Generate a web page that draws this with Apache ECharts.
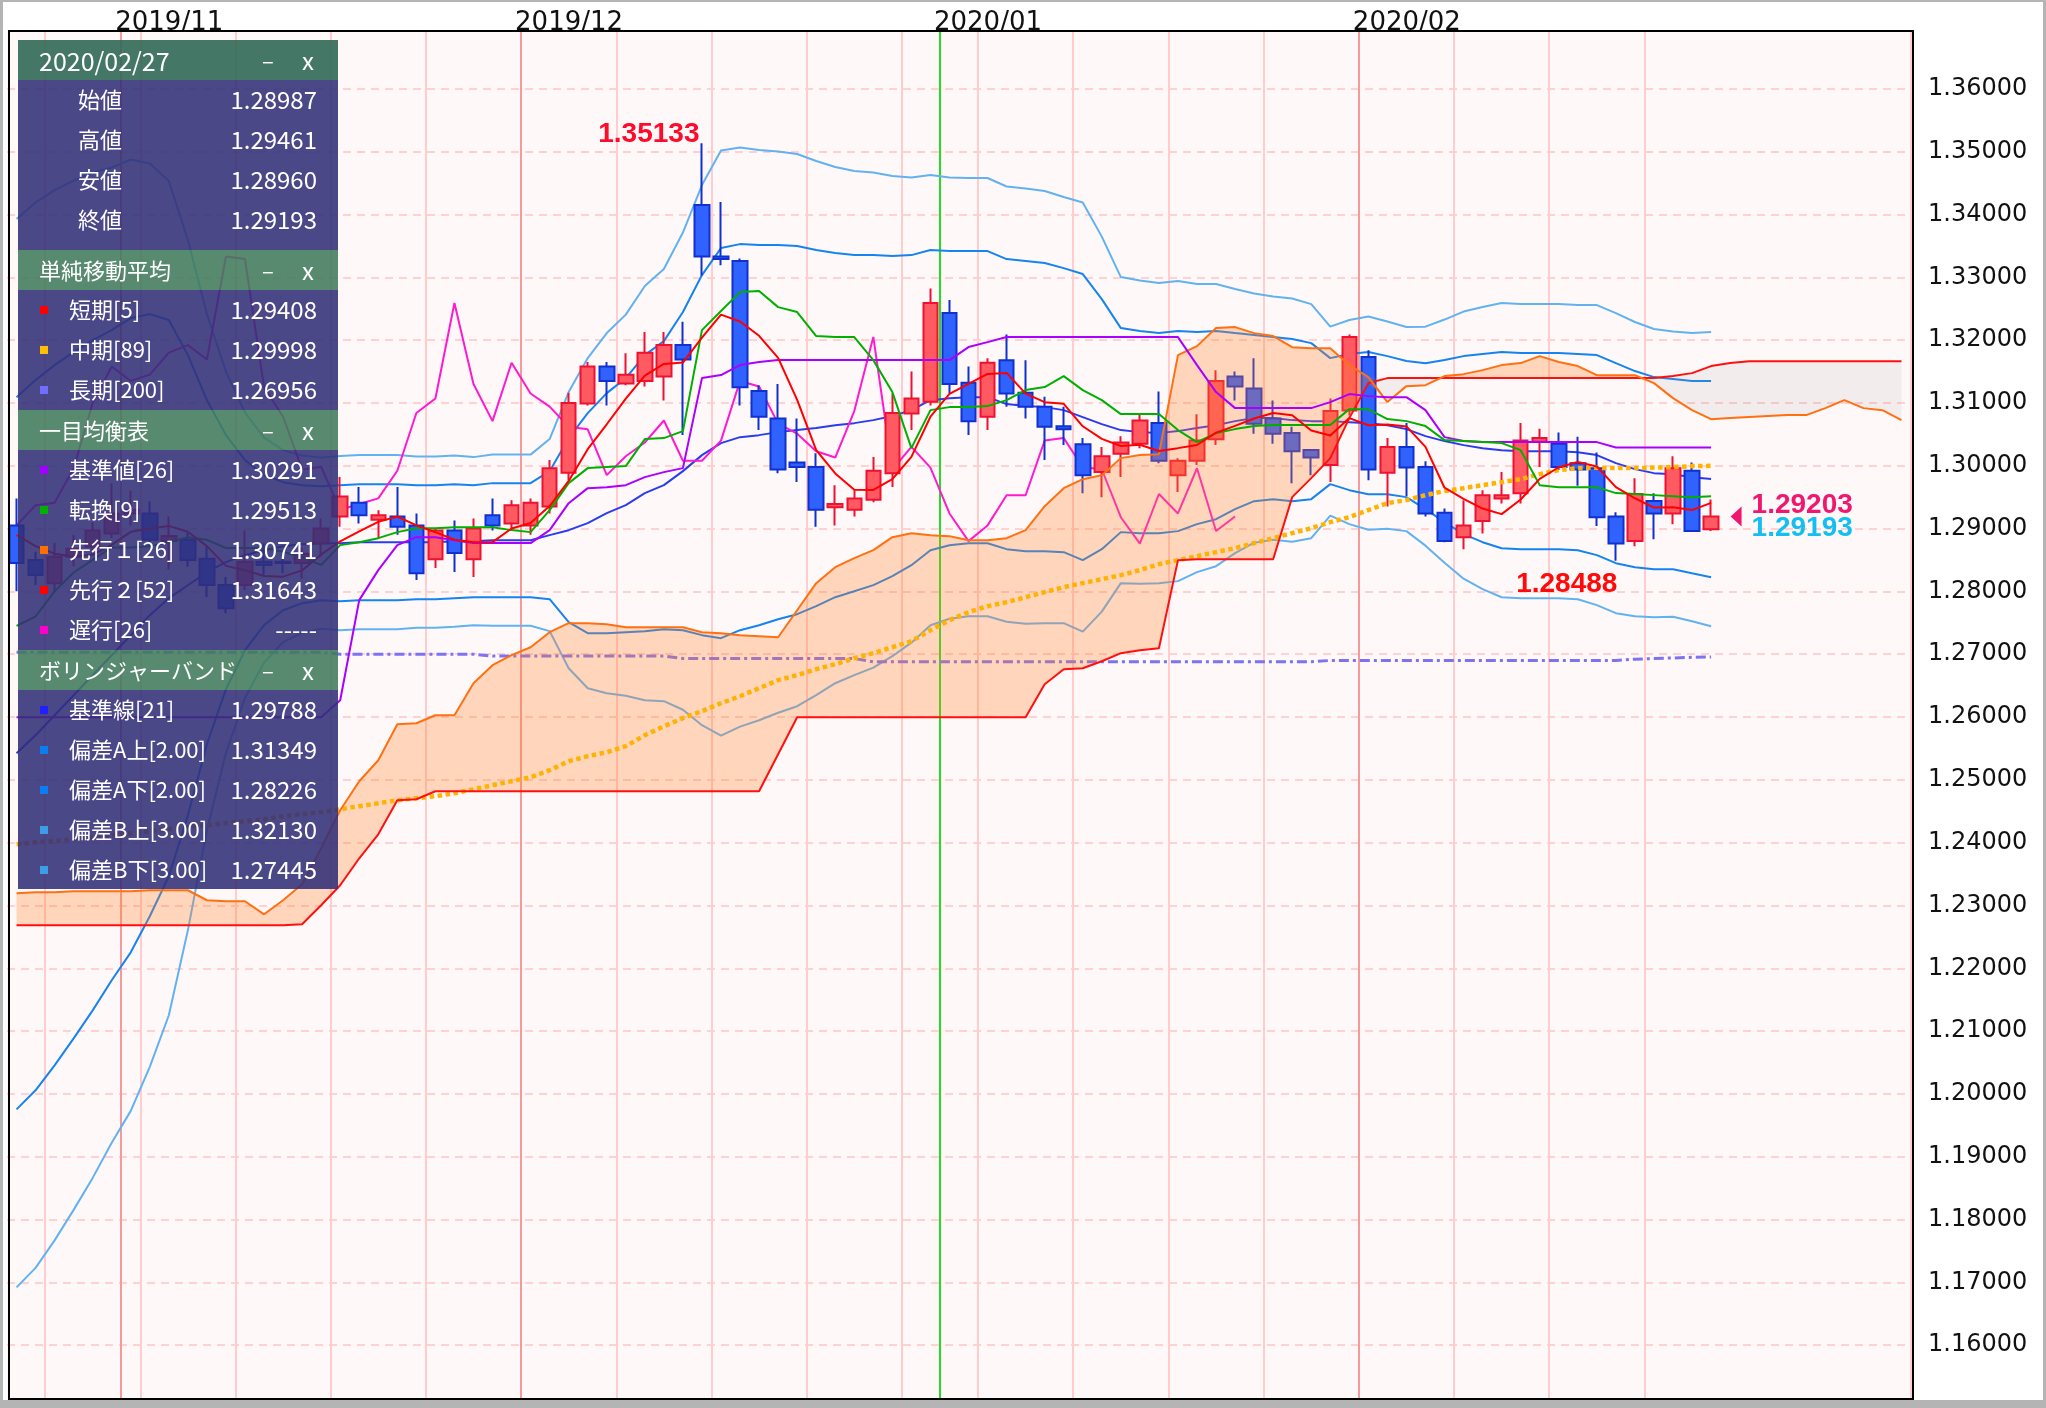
<!DOCTYPE html>
<html>
<head>
<meta charset="utf-8">
<script src="https://cdn.jsdelivr.net/npm/echarts@6.0.0/dist/echarts.min.js"></script>
<style>
html,body{margin:0;padding:0;background:#ffffff;}
#chart{width:2046px;height:1408px;}
</style>
</head>
<body>
<div id="chart"></div>
<script>
// ---------------- DATA ----------------
const dates = ['2019/10/24','2019/10/25','2019/10/28','2019/10/29','2019/10/30','2019/10/31','2019/11/01','2019/11/04','2019/11/05','2019/11/06','2019/11/07','2019/11/08','2019/11/11','2019/11/12','2019/11/13','2019/11/14','2019/11/15','2019/11/18','2019/11/19','2019/11/20','2019/11/21','2019/11/22','2019/11/25','2019/11/26','2019/11/27','2019/11/28','2019/11/29','2019/12/02','2019/12/03','2019/12/04','2019/12/05','2019/12/06','2019/12/09','2019/12/10','2019/12/11','2019/12/12','2019/12/13','2019/12/16','2019/12/17','2019/12/18','2019/12/19','2019/12/20','2019/12/23','2019/12/24','2019/12/25','2019/12/26','2019/12/27','2019/12/30','2019/12/31','2020/01/02','2020/01/03','2020/01/06','2020/01/07','2020/01/08','2020/01/09','2020/01/10','2020/01/13','2020/01/14','2020/01/15','2020/01/16','2020/01/17','2020/01/20','2020/01/21','2020/01/22','2020/01/23','2020/01/24','2020/01/27','2020/01/28','2020/01/29','2020/01/30','2020/01/31','2020/02/03','2020/02/04','2020/02/05','2020/02/06','2020/02/07','2020/02/10','2020/02/11','2020/02/12','2020/02/13','2020/02/14','2020/02/17','2020/02/18','2020/02/19','2020/02/20','2020/02/21','2020/02/24','2020/02/25','2020/02/26','2020/02/27','2020/02/28','2020/03/02','2020/03/03','2020/03/04','2020/03/05','2020/03/06','2020/03/09','2020/03/10','2020/03/11','2020/03/12'];
const endBoundary = ['2020/03/13'];

const opens = [1.2905,1.2850,1.2813,1.2855,1.2871,1.2892,1.2924,1.2924,1.2880,1.2882,
1.2852,1.2810,1.2810,1.2847,1.2847,1.2845,1.2876,1.2919,1.2941,1.2914,
1.2919,1.2905,1.2851,1.2897,1.2851,1.2921,1.2908,1.2905,1.2935,1.2989,
1.3099,1.3158,1.3131,1.3135,1.3142,1.3192,1.3415,1.3333,1.3326,1.3119,
1.3075,1.3005,1.2998,1.2934,1.2930,1.2946,1.2988,1.3083,1.3102,1.3243,
1.3132,1.3078,1.3168,1.3116,1.3094,1.3063,1.3034,1.2990,1.3019,1.3035,
1.3068,1.2985,1.3008,1.3042,1.3142,1.3123,1.3075,1.3052,1.3025,1.3001,
1.3088,1.3173,1.2989,1.3030,1.2998,1.2925,1.2886,1.2912,1.2948,1.2956,
1.3038,1.3035,1.3004,1.2996,1.2919,1.2880,1.2944,1.2924,1.2992,1.28987];
const highs = [1.2948,1.2863,1.2877,1.2890,1.2910,1.2972,1.2960,1.2943,1.2919,1.2893,
1.2871,1.2823,1.2897,1.2876,1.2860,1.2870,1.2916,1.2982,1.2966,1.2929,
1.2966,1.2924,1.2900,1.2913,1.2916,1.2948,1.2945,1.2948,1.3009,1.3116,
1.3165,1.3165,1.3179,1.3213,1.3213,1.3229,1.35133,1.3420,1.3330,1.3128,
1.3130,1.3075,1.3020,1.2969,1.2961,1.3014,1.3115,1.3150,1.3282,1.3264,
1.3158,1.3171,1.3209,1.3168,1.3110,1.3094,1.3044,1.3030,1.3047,1.3081,
1.3118,1.3012,1.3082,1.3152,1.3150,1.3171,1.3104,1.3062,1.3026,1.3107,
1.3209,1.3184,1.3044,1.3068,1.3007,1.2932,1.2945,1.2961,1.2990,1.3068,
1.3059,1.3053,1.3046,1.3021,1.2926,1.2980,1.2956,1.3015,1.3005,1.29461];
const lows = [1.2800,1.2810,1.2799,1.2840,1.2860,1.2885,1.2905,1.2871,1.2835,1.2839,
1.2791,1.2765,1.2802,1.2826,1.2829,1.2820,1.2855,1.2903,1.2908,1.2884,
1.2890,1.2818,1.2837,1.2831,1.2823,1.2897,1.2897,1.2890,1.2924,1.2977,
1.3096,1.3096,1.3128,1.3126,1.3104,1.3049,1.3303,1.3319,1.3096,1.3057,
1.2988,1.2974,1.2903,1.2905,1.2919,1.2942,1.2966,1.3057,1.3096,1.3115,
1.3049,1.3057,1.3094,1.3075,1.3009,1.3033,1.2956,1.2950,1.2982,1.3028,
1.3004,1.2958,1.3001,1.3033,1.3104,1.3051,1.3035,1.2972,1.2985,1.2974,
1.3080,1.2977,1.2935,1.2952,1.2919,1.2878,1.2867,1.2892,1.2940,1.2940,
1.2998,1.2993,1.2968,1.2904,1.28488,1.2872,1.2883,1.2907,1.2896,1.28960];
const closes = [1.2845,1.2826,1.2855,1.2868,1.2897,1.2924,1.2930,1.2882,1.2888,1.2850,
1.2810,1.2773,1.2847,1.2842,1.2845,1.2860,1.2900,1.2951,1.2921,1.2921,
1.2903,1.2829,1.2897,1.2861,1.2900,1.2905,1.2937,1.2941,1.2996,1.3100,
1.3158,1.3135,1.3145,1.3180,1.3192,1.3169,1.3333,1.3329,1.3125,1.3078,
1.2994,1.2998,1.2930,1.2939,1.2948,1.2992,1.3084,1.3107,1.3259,1.3130,
1.3071,1.3164,1.3115,1.3094,1.3062,1.3058,1.2985,1.3015,1.3037,1.3072,
1.3008,1.3008,1.3040,1.3135,1.3126,1.3067,1.3051,1.3023,1.3013,1.3087,
1.3205,1.2994,1.3030,1.2997,1.2924,1.2880,1.2905,1.2953,1.2953,1.3040,
1.3044,1.2998,1.2994,1.2918,1.2876,1.2955,1.2924,1.2996,1.2896,1.29193];

const sma5 = [1.2890,1.2872,1.2860,1.2855,1.28582,1.28740,1.28948,1.29002,1.29042,1.28948,
1.28720,1.28406,1.28336,1.28244,1.28234,1.28334,1.28588,1.28796,1.28954,1.29106,
1.29192,1.29050,1.28942,1.28822,1.28780,1.28784,1.29000,1.29088,1.29358,1.29758,
1.30264,1.30660,1.31068,1.31436,1.31620,1.31642,1.32038,1.32406,1.32296,1.32068,
1.31718,1.31048,1.30250,1.29878,1.29618,1.29614,1.29786,1.30140,1.30780,1.31144,
1.31302,1.31462,1.31478,1.31148,1.31012,1.30986,1.30628,1.30428,1.30314,1.30334,
1.30234,1.30280,1.30330,1.30526,1.30634,1.30752,1.30838,1.30804,1.30560,1.30482,
1.30758,1.30644,1.30658,1.30626,1.30300,1.29650,1.29472,1.29318,1.29230,1.29462,
1.29790,1.29976,1.30058,1.29988,1.29660,1.29482,1.29334,1.29338,1.29294,1.29408];
const sma89 = [1.23975,1.24006,1.24022,1.24054,1.24086,1.24118,1.24150,1.24182,1.24213,1.24245,
1.24277,1.24309,1.24341,1.24373,1.24420,1.24452,1.24484,1.24532,1.24580,1.24627,
1.24675,1.24707,1.24739,1.24787,1.24850,1.24914,1.24978,1.25041,1.25153,1.25296,
1.25376,1.25439,1.25535,1.25710,1.25853,1.25981,1.26092,1.26220,1.26331,1.26459,
1.26586,1.26666,1.26761,1.26841,1.26936,1.27016,1.27111,1.27207,1.27382,1.27541,
1.27669,1.27764,1.27828,1.27908,1.27987,1.28067,1.28131,1.28194,1.28258,1.28338,
1.28433,1.28497,1.28560,1.28624,1.28688,1.28768,1.28847,1.28927,1.29006,1.29102,
1.29182,1.29293,1.29404,1.29452,1.29532,1.29596,1.29643,1.29691,1.29739,1.29787,
1.29866,1.29930,1.29962,1.29967,1.29962,1.29962,1.29970,1.29978,1.29994,1.29998];
const sma200 = [1.2703,1.2703,1.2703,1.2703,1.2703,1.2703,1.2703,1.2703,1.2703,1.2703,
1.2703,1.2703,1.2703,1.2703,1.2703,1.2703,1.2703,1.2700,1.2700,1.2700,
1.2700,1.2700,1.2700,1.2700,1.2700,1.2697,1.2697,1.2697,1.2697,1.2697,
1.2697,1.2697,1.2697,1.2697,1.2697,1.2693,1.2693,1.2693,1.2693,1.2693,
1.2693,1.2693,1.2693,1.2693,1.2693,1.2688,1.2688,1.2688,1.2688,1.2688,
1.2688,1.2688,1.2688,1.2688,1.2688,1.2688,1.2688,1.2688,1.2688,1.2688,
1.2688,1.2688,1.2688,1.2688,1.2688,1.2688,1.2688,1.2688,1.2688,1.2690,
1.2690,1.2690,1.2690,1.2690,1.2690,1.2690,1.2690,1.2690,1.2690,1.2690,
1.2690,1.2690,1.2690,1.2690,1.2690,1.2692,1.2693,1.2694,1.2695,1.26956];

const kijun = [1.25997,1.25997,1.25997,1.25997,1.25997,1.25997,1.25997,1.25997,1.25997,1.25997,
1.25997,1.25997,1.25997,1.25997,1.25997,1.25997,1.25997,1.26267,1.27860,1.28338,
1.28736,1.28863,1.28863,1.28815,1.28768,1.28768,1.28768,1.28768,1.28975,1.29404,
1.29643,1.29659,1.29691,1.29819,1.29898,1.29962,1.31395,1.31443,1.31602,1.31650,
1.31682,1.31682,1.31682,1.31682,1.31682,1.31682,1.31682,1.31682,1.31682,1.31682,
1.31889,1.31968,1.32048,1.32048,1.32048,1.32048,1.32048,1.32048,1.32048,1.32048,
1.32048,1.32048,1.31602,1.31172,1.30917,1.30917,1.30917,1.30917,1.30917,1.31013,
1.31140,1.31108,1.31092,1.31092,1.30885,1.30455,1.30392,1.30376,1.30376,1.30376,
1.30376,1.30376,1.30376,1.30376,1.30291,1.30291,1.30291,1.30291,1.30291,1.30291];
const tenkan = [1.2745,1.2760,1.2800,1.2830,1.2850,1.2870,1.2870,1.2872,1.2878,1.2886,
1.2882,1.2869,1.2869,1.2869,1.2863,1.2854,1.2842,1.28736,1.28783,1.28847,
1.28943,1.29006,1.29006,1.29022,1.29022,1.29022,1.28975,1.28943,1.29293,1.29723,
1.29962,1.29978,1.29994,1.30424,1.30440,1.30551,1.32159,1.32462,1.32764,1.32780,
1.32525,1.32446,1.32064,1.32048,1.32048,1.31681,1.31172,1.30280,1.30885,1.30933,
1.30933,1.30949,1.31045,1.31204,1.31252,1.31427,1.31204,1.31045,1.30822,1.30822,
1.30822,1.30567,1.30376,1.30519,1.30583,1.30631,1.30647,1.30647,1.30647,1.30647,
1.30901,1.30901,1.30742,1.30710,1.30631,1.30408,1.30392,1.30376,1.30360,1.30248,
1.29691,1.29659,1.29659,1.29659,1.29564,1.29548,1.29532,1.29516,1.29500,1.29513];
const senkouA = [1.23194,1.23210,1.23210,1.23226,1.23226,1.23226,1.23226,1.23242,1.23242,1.23242,
1.23083,1.23067,1.23067,1.22859,1.23083,1.23337,1.23910,1.24516,1.24977,1.25312,
1.25885,1.25901,1.26028,1.26028,1.26538,1.26825,1.26984,1.27111,1.27350,1.27493,
1.27493,1.27477,1.27430,1.27430,1.27430,1.27430,1.27350,1.27334,1.27302,1.27286,
1.27270,1.27700,1.28130,1.28385,1.28528,1.28656,1.28863,1.28926,1.28894,1.28879,
1.28815,1.28815,1.28847,1.28974,1.29356,1.29643,1.29786,1.29850,1.30121,1.30169,
1.30184,1.31761,1.31904,1.32191,1.32207,1.32111,1.32064,1.31888,1.31872,1.31872,
1.31602,1.31411,1.31013,1.31267,1.31283,1.31427,1.31458,1.31522,1.31602,1.31634,
1.31745,1.31650,1.31586,1.31442,1.31442,1.31442,1.31315,1.31076,1.30885,1.30741,
1.30758,1.30774,1.30790,1.30806,1.30806,1.30917,1.31044,1.30917,1.30885,1.30726];
const senkouB = [1.22684,1.22684,1.22684,1.22684,1.22684,1.22684,1.22684,1.22684,1.22684,1.22684,
1.22684,1.22684,1.22684,1.22684,1.22684,1.22700,1.23003,1.23321,1.23751,1.24133,
1.24675,1.24691,1.24818,1.24818,1.24818,1.24818,1.24818,1.24818,1.24818,1.24818,
1.24818,1.24818,1.24818,1.24818,1.24818,1.24818,1.24818,1.24818,1.24818,1.24818,
1.25407,1.25996,1.25996,1.25996,1.25996,1.25996,1.25996,1.25996,1.25996,1.25996,
1.25996,1.25996,1.25996,1.25996,1.26522,1.26761,1.26777,1.26888,1.27016,1.27063,
1.27095,1.28497,1.28512,1.28512,1.28512,1.28512,1.28512,1.29500,1.29802,1.30121,
1.30758,1.31315,1.31395,1.31395,1.31395,1.31395,1.31395,1.31395,1.31395,1.31395,
1.31395,1.31395,1.31395,1.31395,1.31395,1.31395,1.31395,1.31427,1.31474,1.31586,
1.31634,1.31665,1.31665,1.31665,1.31665,1.31665,1.31665,1.31665,1.31665,1.31665];
const chikou = [1.2905,1.2937,1.2941,1.2996,1.3100,1.3158,1.3135,1.3145,1.3180,1.3192,
1.3169,1.3333,1.3329,1.3125,1.3078,1.2994,1.2998,1.2930,1.2939,1.2948,
1.2992,1.3084,1.3107,1.3259,1.3130,1.3071,1.3164,1.3115,1.3094,1.3062,
1.3058,1.2985,1.3015,1.3037,1.3072,1.3008,1.3008,1.3040,1.3135,1.3126,
1.3067,1.3051,1.3023,1.3013,1.3087,1.3205,1.2994,1.3030,1.2997,1.2924,
1.2880,1.2905,1.2953,1.2953,1.3040,1.3044,1.2998,1.2994,1.2918,1.2876,
1.2955,1.2924,1.2996,1.2896,1.29193];

const bbMid = [1.25423,1.25710,1.26028,1.26347,1.26665,1.26984,1.27302,1.27621,1.27892,1.28098,
1.28305,1.28465,1.28576,1.28656,1.28719,1.28751,1.28767,1.28767,1.28783,1.28783,
1.28783,1.28783,1.28783,1.28799,1.28799,1.28815,1.28815,1.28815,1.28895,1.28974,
1.29086,1.29245,1.29372,1.29563,1.29691,1.29914,1.30169,1.30360,1.30455,1.30487,
1.30535,1.30567,1.30599,1.30646,1.30678,1.30726,1.30790,1.30885,1.31044,1.31076,
1.31092,1.31092,1.30981,1.30949,1.30933,1.30885,1.30774,1.30662,1.30567,1.30535,
1.30519,1.30551,1.30599,1.30646,1.30710,1.30758,1.30758,1.30726,1.30710,1.30710,
1.30694,1.30678,1.30646,1.30583,1.30471,1.30392,1.30328,1.30280,1.30248,1.30232,
1.30232,1.30232,1.30216,1.30169,1.30041,1.29946,1.29882,1.29866,1.29818,1.29788];
const bbUp2 = [1.31092,1.31363,1.31601,1.31809,1.32000,1.32159,1.32350,1.32414,1.32319,1.31761,
1.31044,1.30487,1.30089,1.29850,1.29738,1.29691,1.29675,1.29691,1.29707,1.29707,
1.29707,1.29691,1.29691,1.29707,1.29691,1.29723,1.29723,1.29723,1.29914,1.30439,
1.30838,1.31156,1.31394,1.31761,1.31984,1.32446,1.33035,1.33465,1.33528,1.33513,
1.33513,1.33497,1.33433,1.33385,1.33353,1.33353,1.33338,1.33353,1.33433,1.33417,
1.33417,1.33417,1.33290,1.33258,1.33226,1.33146,1.33051,1.32652,1.32191,1.32143,
1.32111,1.32143,1.32128,1.32143,1.32111,1.32080,1.32048,1.32016,1.31952,1.31713,
1.31777,1.31809,1.31745,1.31666,1.31633,1.31682,1.31745,1.31777,1.31809,1.31793,
1.31793,1.31793,1.31777,1.31761,1.31633,1.31507,1.31411,1.31379,1.31347,1.31349];
const bbLo2 = [1.19754,1.20057,1.20455,1.20885,1.21330,1.21809,1.22254,1.22828,1.23465,1.24435,
1.25566,1.26443,1.27063,1.27462,1.27700,1.27811,1.27859,1.27843,1.27859,1.27859,
1.27859,1.27875,1.27875,1.27891,1.27907,1.27907,1.27907,1.27907,1.27876,1.27509,
1.27334,1.27334,1.27350,1.27365,1.27398,1.27382,1.27303,1.27255,1.27382,1.27461,
1.27557,1.27637,1.27765,1.27907,1.28003,1.28099,1.28242,1.28417,1.28655,1.28735,
1.28767,1.28767,1.28672,1.28640,1.28640,1.28624,1.28497,1.28672,1.28943,1.28927,
1.28927,1.28959,1.29070,1.29149,1.29309,1.29436,1.29468,1.29436,1.29468,1.29707,
1.29611,1.29547,1.29547,1.29500,1.29309,1.29102,1.28911,1.28783,1.28687,1.28671,
1.28671,1.28671,1.28655,1.28577,1.28449,1.28385,1.28353,1.28353,1.28289,1.28226];
const bbUp3 = [1.33927,1.34190,1.34388,1.34540,1.34668,1.34747,1.34874,1.34811,1.34533,1.33593,
1.32414,1.31498,1.30846,1.30447,1.30248,1.30161,1.30129,1.30153,1.30169,1.30169,
1.30169,1.30145,1.30145,1.30161,1.30137,1.30177,1.30177,1.30177,1.30424,1.31172,
1.31714,1.32112,1.32405,1.32860,1.33131,1.33712,1.34468,1.35018,1.35065,1.35026,
1.35002,1.34962,1.34850,1.34755,1.34691,1.34667,1.34612,1.34587,1.34628,1.34588,
1.34580,1.34580,1.34445,1.34413,1.34373,1.34277,1.34190,1.33647,1.33003,1.32947,
1.32907,1.32939,1.32893,1.32892,1.32812,1.32741,1.32693,1.32661,1.32573,1.32215,
1.32319,1.32375,1.32295,1.32208,1.32214,1.32327,1.32454,1.32526,1.32590,1.32574,
1.32574,1.32574,1.32558,1.32557,1.32429,1.32288,1.32176,1.32136,1.32112,1.32130];
const bbLo3 = [1.16920,1.17231,1.17668,1.18154,1.18663,1.19221,1.19730,1.20431,1.21252,1.22604,
1.24197,1.25432,1.26307,1.26865,1.27191,1.27341,1.27405,1.27381,1.27397,1.27397,
1.27397,1.27421,1.27421,1.27437,1.27461,1.27453,1.27453,1.27453,1.27367,1.26777,
1.26458,1.26379,1.26339,1.26266,1.26252,1.26116,1.25870,1.25703,1.25846,1.25948,
1.26068,1.26172,1.26348,1.26538,1.26666,1.26785,1.26968,1.27183,1.27461,1.27564,
1.27605,1.27605,1.27517,1.27485,1.27494,1.27494,1.27359,1.27677,1.28131,1.28123,
1.28131,1.28163,1.28306,1.28401,1.28609,1.28775,1.28823,1.28791,1.28847,1.29206,
1.29070,1.28982,1.28998,1.28959,1.28728,1.28457,1.28202,1.28035,1.27907,1.27891,
1.27891,1.27891,1.27875,1.27781,1.27653,1.27604,1.27589,1.27596,1.27525,1.27445];

const weekLineIdx = [2,7,12,17,22,27,32,37,42,47,51,56,61,66,71,76,81,86];
const monthStartIdx = [6,27,49,71];
const monthLineIdx = [6,27,71];
const yearLineIdx = [49];

const markHighIdx = 36, markHigh = 1.35133;
const markLowIdx = 84, markLow = 1.28488;
const lastIdx = 89, bidPrice = 1.29203, lastClose = 1.29193;

const panelDate = '2020/02/27';
const ohlcNames = ['始値','高値','安値','終値'];
const ohlcVals = ['1.28987','1.29461','1.28960','1.29193'];
const smaNames = ['短期[5]','中期[89]','長期[200]'];
const smaVals = ['1.29408','1.29998','1.26956'];
const smaColors = ['#ff0000','#ffc000','#6f6fff'];
const ichiNames = ['基準値[26]','転換[9]','先行１[26]','先行２[52]','遅行[26]'];
const ichiVals = ['1.30291','1.29513','1.30741','1.31643','-----'];
const ichiColors = ['#a000ff','#00b000','#ff7000','#ff0000','#ff00cc'];
const bbNames = ['基準線[21]','偏差A上[2.00]','偏差A下[2.00]','偏差B上[3.00]','偏差B下[3.00]'];
const bbVals = ['1.29788','1.31349','1.28226','1.32130','1.27445'];
const bbColors = ['#2020ff','#0a7ef0','#0a7ef0','#3d9ee8','#3d9ee8'];

// ---------------- BUILD ----------------
const boundaries = dates.concat(endBoundary);
const candleData = opens.map((o, i) => [o, closes[i], lows[i], highs[i]]);
const cloudBase = senkouA.map((a, i) => Math.min(a, senkouB[i]));
const cloudUp = senkouA.map((a, i) => Math.max(a - senkouB[i], 0));
const cloudDown = senkouA.map((a, i) => Math.max(senkouB[i] - a, 0));

function line(name, data, color, width, z, type) {
  return {
    name, type: 'line', data, xAxisIndex: 0, yAxisIndex: 0, symbol: 'none', showSymbol: false,
    silent: true, z: z, animation: false,
    lineStyle: { color, width, type: type || 'solid', cap: 'butt' }
  };
}

const PFONT = '"Noto Sans CJK JP", "Noto Sans", sans-serif';
function ptext(t, x, y, align, size) {
  return { type: 'text', x: x, y: y, z: 82, silent: true,
    style: { text: t, fill: '#ffffff', font: (size || 22) + 'px ' + PFONT, textAlign: align, textVerticalAlign: 'middle' } };
}
const sections = [
  { title: panelDate, tsize: 25, names: ohlcNames, values: ohlcVals, colors: null, body: 170, head: 'rgba(49,104,86,0.9)' },
  { title: '単純移動平均', tsize: 22, names: smaNames, values: smaVals, colors: smaColors, body: 120, head: 'rgba(65,122,92,0.88)' },
  { title: '一目均衡表', tsize: 22, names: ichiNames, values: ichiVals, colors: ichiColors, body: 200, head: 'rgba(65,122,92,0.88)' },
  { title: 'ボリンジャーバンド', tsize: 22, names: bbNames, values: bbVals, colors: bbColors, body: 199, head: 'rgba(65,122,92,0.88)' }
];
const graphics = [];
let py = 40;
sections.forEach((s) => {
  graphics.push({ type: 'rect', z: 80, silent: true, shape: { x: 18, y: py, width: 320, height: 40 }, style: { fill: s.head } });
  graphics.push(ptext(s.title, 39, py + 21, 'left', s.tsize));
  graphics.push(ptext('–', 268, py + 21, 'center', 22));
  graphics.push(ptext('x', 308, py + 21, 'center', 24));
  py += 40;
  graphics.push({ type: 'rect', z: 80, silent: true, shape: { x: 18, y: py, width: 320, height: s.body }, style: { fill: 'rgba(50,47,120,0.88)' } });
  s.names.forEach((n, j) => {
    const cy = py + 20 + j * 40;
    if (s.colors) {
      graphics.push({ type: 'rect', z: 81, silent: true, shape: { x: 40, y: cy - 4, width: 8, height: 8 }, style: { fill: s.colors[j] } });
      graphics.push(ptext(n, 69, cy, 'left', 22));
    } else {
      graphics.push(ptext(n, 78, cy, 'left', 22));
    }
    graphics.push(ptext(s.values[j], 317, cy, 'right', 24));
  });
  py += s.body;
});
// covers, border, frame
graphics.push({ type: 'rect', z: 5, silent: true, shape: { x: 4, y: 0, width: 1912, height: 30 }, style: { fill: '#ffffff' } });
graphics.push({ type: 'rect', z: 90, silent: true, shape: { x: 9, y: 31, width: 1904, height: 1368 }, style: { fill: 'transparent', stroke: '#000000', lineWidth: 2 } });
graphics.push({ type: 'rect', z: 100, silent: true, shape: { x: 0, y: 1400, width: 2046, height: 8 }, style: { fill: '#b4b4b4' } });
graphics.push({ type: 'rect', z: 100, silent: true, shape: { x: 0, y: 0, width: 2046, height: 2 }, style: { fill: '#b4b4b4' } });
graphics.push({ type: 'rect', z: 100, silent: true, shape: { x: 0, y: 0, width: 3, height: 1408 }, style: { fill: '#b4b4b4' } });
graphics.push({ type: 'rect', z: 100, silent: true, shape: { x: 2043, y: 0, width: 3, height: 1408 }, style: { fill: '#b4b4b4' } });

const markFont = { fontFamily: 'Liberation Sans', fontWeight: 'bold', fontSize: 28 };

const option = {
  animation: false,
  backgroundColor: '#ffffff',
  grid: [
    { left: 7, right: 135, top: 26, bottom: 0, show: true, backgroundColor: '#fff8f8', borderWidth: 0 },
    { left: 1, right: 141, top: 26, bottom: 0, show: false }
  ],
  xAxis: [
    { type: 'category', data: dates, boundaryGap: true, gridIndex: 0, z: 0,
      axisLine: { show: false }, axisTick: { show: false }, axisLabel: { show: false },
      splitLine: { show: true, interval: (i) => weekLineIdx.includes(i), lineStyle: { color: '#ffcdcd', width: 2 } } },
    { type: 'category', data: boundaries, boundaryGap: false, position: 'top', gridIndex: 1, z: 10,
      axisLine: { show: false }, axisTick: { show: false }, splitLine: { show: false },
      axisLabel: { show: true, interval: (i) => monthStartIdx.includes(i), formatter: (v) => v.slice(0, 7),
        align: 'left', verticalAlign: 'middle', margin: 3, fontFamily: 'DejaVu Sans', fontSize: 26, color: '#111111' } },
    { type: 'category', data: boundaries, boundaryGap: false, position: 'top', gridIndex: 0, z: 0,
      axisLine: { show: false }, axisTick: { show: false }, axisLabel: { show: false },
      splitLine: { show: true, interval: (i) => monthLineIdx.includes(i), lineStyle: { color: '#f59a9a', width: 2 } } },
    { type: 'category', data: boundaries, boundaryGap: false, position: 'top', gridIndex: 0, z: 0,
      axisLine: { show: false }, axisTick: { show: false }, axisLabel: { show: false },
      splitLine: { show: true, interval: (i) => yearLineIdx.includes(i), lineStyle: { color: '#22dd22', width: 2 } } }
  ],
  yAxis: [
    { type: 'value', position: 'right', gridIndex: 0, min: 1.15, max: 1.37, interval: 0.01, scale: true,
      axisLine: { show: false }, axisTick: { show: false },
      axisLabel: { formatter: (v) => v.toFixed(5), showMinLabel: false, showMaxLabel: false, margin: 17,
        fontFamily: 'DejaVu Sans', fontSize: 24, color: '#111111' },
      splitLine: { show: true, showMinLine: false, showMaxLine: false, lineStyle: { color: '#ffc4c4', width: 1.5, type: [8, 6] } } },
    { type: 'value', gridIndex: 1, show: false, min: 0, max: 1, splitLine: { show: false } }
  ],
  graphic: { elements: graphics },
  series: [
    { name: 'candle', type: 'candlestick', data: candleData, xAxisIndex: 0, yAxisIndex: 0, z: 2, barWidth: 15, silent: true,
      itemStyle: { color: '#ff5a62', color0: '#2f62ff', borderColor: '#f01030', borderColor0: '#1030d0', borderWidth: 2 },
      markPoint: { silent: true, animation: false, data: [
        { coord: [dates[markHighIdx], markHigh], symbol: 'circle', symbolSize: 1, itemStyle: { color: 'rgba(0,0,0,0)' },
          label: Object.assign({ show: true, position: 'left', distance: 2, offset: [0, -9], color: '#ff0a2a', formatter: () => markHigh.toFixed(5) }, markFont) },
        { coord: [dates[markLowIdx], markLow], symbol: 'circle', symbolSize: 1, itemStyle: { color: 'rgba(0,0,0,0)' },
          label: Object.assign({ show: true, position: 'left', distance: 0, offset: [2, 24], color: '#ff0a0a', formatter: () => markLow.toFixed(5) }, markFont) },
        { coord: [dates[lastIdx], lastClose], symbol: 'triangle', symbolSize: [20, 11], symbolRotate: 90, symbolOffset: [25, 0],
          itemStyle: { color: '#f0186e' }, label: { show: false } },
        { coord: [dates[lastIdx], bidPrice], symbol: 'circle', symbolSize: 1, itemStyle: { color: 'rgba(0,0,0,0)' },
          label: Object.assign({ show: true, position: 'right', distance: 40, offset: [0, -11], color: '#f0186e', formatter: () => bidPrice.toFixed(5) }, markFont) },
        { coord: [dates[lastIdx], lastClose], symbol: 'circle', symbolSize: 1, itemStyle: { color: 'rgba(0,0,0,0)' },
          label: Object.assign({ show: true, position: 'right', distance: 40, offset: [0, 12], color: '#12bff0', formatter: () => lastClose.toFixed(5) }, markFont) }
      ] } },
    line('BB+3', bbUp3, '#62b2f2', 2, 2),
    line('BB+2', bbUp2, '#1584f0', 2, 2),
    line('BBmid', bbMid, '#2a3cf0', 2, 2),
    line('BB-2', bbLo2, '#1584f0', 2, 2),
    line('BB-3', bbLo3, '#62b2f2', 2, 2),
    line('SMA200', sma200, '#7c72f2', 3, 2, [10, 4, 3, 4]),
    line('chikou', chikou, '#ff1ad0', 2, 2),
    { name: 'cloudBase', type: 'line', data: cloudBase, stack: 'cloud', symbol: 'none', silent: true, z: 3,
      lineStyle: { width: 0, opacity: 0 } },
    { name: 'cloudUp', type: 'line', data: cloudUp, stack: 'cloud', symbol: 'none', silent: true, z: 3,
      lineStyle: { width: 0, opacity: 0 }, areaStyle: { color: 'rgba(255,128,40,0.42)' } },
    { name: 'cloudDown', type: 'line', data: cloudDown, stack: 'cloud', symbol: 'none', silent: true, z: 3,
      lineStyle: { width: 0, opacity: 0 }, areaStyle: { color: 'rgba(150,150,150,0.18)' } },
    line('SMA89', sma89, '#ffb300', 4.5, 4, [4.5, 3.5]),
    line('senkouB', senkouB, '#ff1010', 2, 4),
    line('senkouA', senkouA, '#ff7010', 2, 4),
    line('kijun', kijun, '#aa00ff', 2, 4),
    line('tenkan', tenkan, '#00b000', 2, 4),
    line('SMA5', sma5, '#ff0000', 2, 4)
  ]
};

const chart = echarts.init(document.getElementById('chart'), null, { renderer: 'canvas', width: 2046, height: 1408 });
chart.setOption(option);
</script>
</body>
</html>
